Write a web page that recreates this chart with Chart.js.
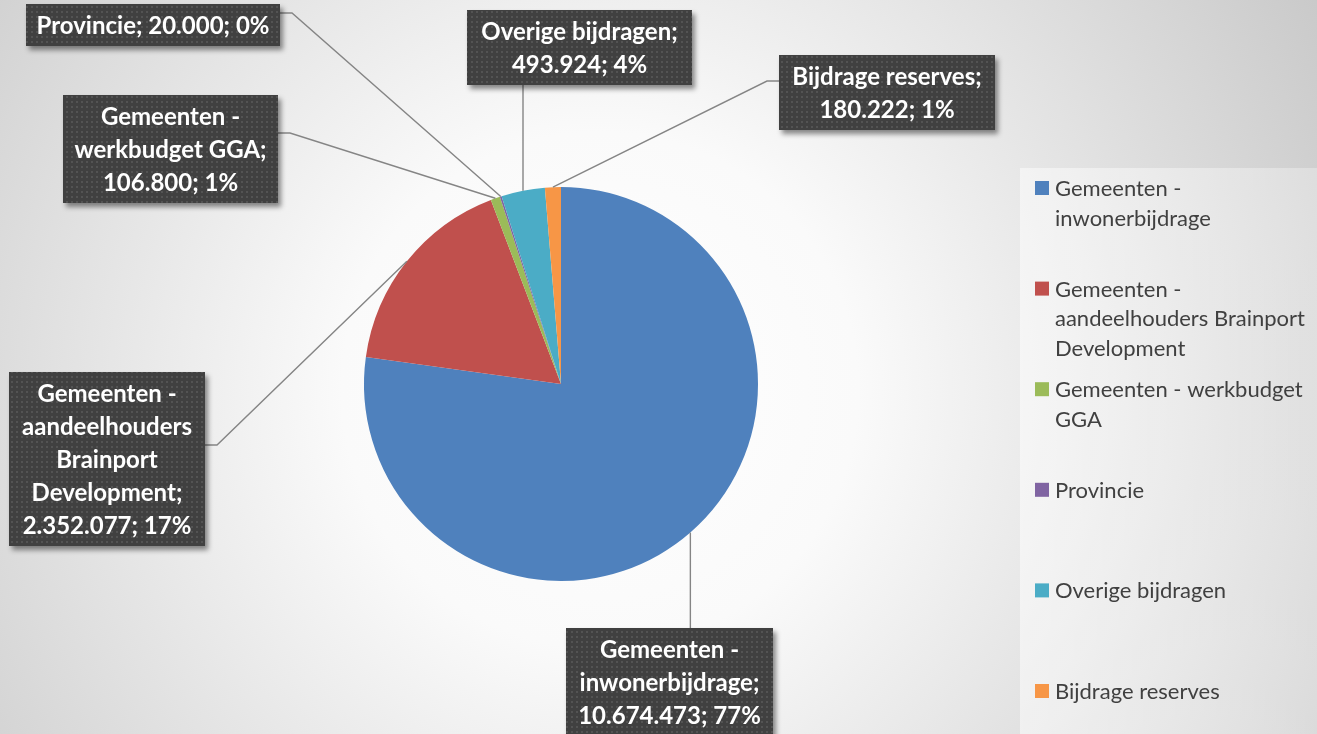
<!DOCTYPE html>
<html>
<head>
<meta charset="utf-8">
<script src="https://cdn.jsdelivr.net/npm/chart.js@4.4.1/dist/chart.umd.min.js"></script>
<style>
  html, body { margin: 0; padding: 0; background: #ffffff; }
  #wrap { position: relative; width: 1317px; height: 734px; }
</style>
</head>
<body>
<div id="wrap"><canvas id="c"></canvas></div>
<script>
// ---- data ----
const categories = [
  'Gemeenten - inwonerbijdrage',
  'Gemeenten - aandeelhouders Brainport Development',
  'Gemeenten - werkbudget GGA',
  'Provincie',
  'Overige bijdragen',
  'Bijdrage reserves'
];
const values = [10674473, 2352077, 106800, 20000, 493924, 180222];
const sliceColors = ['#4f81bd', '#c0504d', '#9bbb59', '#8064a2', '#4bacc6', '#f79646'];

// ---- layout of data-label boxes (x, y, width) and leader attach ----
const labelBoxes = [
  { x: 566, y: 628, w: 207, attach: 'top' },
  { x: 9,   y: 372, w: 196, attach: 'right', ay: 445 },
  { x: 63,  y: 95,  w: 215, attach: 'right', ay: 133 },
  { x: 26,  y: 4,   w: 254, attach: 'right', ay: 13 },
  { x: 467, y: 10,  w: 225, attach: 'bottom' },
  { x: 779, y: 55,  w: 216, attach: 'left', ay: 81 }
];

function fmtNL(n) {
  return String(n).replace(/\B(?=(\d{3})+(?!\d))/g, '.');
}

const LABEL_FONT = 'bold 24px Lato, "Open Sans", sans-serif';
const LEGEND_FONT = '22px Lato, "Open Sans", sans-serif';
const LINE_H = 33;

function wrap(ctx, text, maxW) {
  const words = text.split(' ');
  const lines = [];
  let cur = '';
  for (const w of words) {
    const t = cur ? cur + ' ' + w : w;
    if (cur && ctx.measureText(t).width > maxW) { lines.push(cur); cur = w; }
    else cur = t;
  }
  if (cur) lines.push(cur);
  return lines;
}

function makePattern(ctx) {
  const p = document.createElement('canvas');
  p.width = 5; p.height = 5;
  const g = p.getContext('2d');
  g.fillStyle = '#404040'; g.fillRect(0, 0, 5, 5);
  g.fillStyle = '#535353'; g.fillRect(1, 1, 2, 2);
  return ctx.createPattern(p, 'repeat');
}

const bgPlugin = {
  id: 'bg',
  beforeDraw(chart) {
    const ctx = chart.ctx, W = chart.width, H = chart.height;
    ctx.save();
    const g = ctx.createRadialGradient(600, 390, 0, 600, 390, 860);
    g.addColorStop(0, '#ffffff');
    g.addColorStop(0.3, '#fafafa');
    g.addColorStop(1, '#c6c6c6');
    ctx.fillStyle = g;
    ctx.fillRect(0, 0, W, H);
    // legend panel
    const lg = ctx.createLinearGradient(1020, 0, 1317, 0);
    lg.addColorStop(0, 'rgba(255,255,255,0.5)');
    lg.addColorStop(1, 'rgba(255,255,255,0.3)');
    ctx.fillStyle = lg;
    ctx.fillRect(1020, 168, W - 1020, H - 168);
    ctx.restore();
  }
};

const labelPlugin = {
  id: 'boxLabels',
  afterDatasetsDraw(chart) {
    const ctx = chart.ctx;
    const meta = chart.getDatasetMeta(0);
    const data = chart.data.datasets[0].data;
    const total = data.reduce((a, b) => a + b, 0);
    const pattern = makePattern(ctx);
    ctx.save();
    ctx.font = LABEL_FONT;
    const prepared = meta.data.map((arc, i) => {
      const pct = Math.round(data[i] / total * 100);
      const text = chart.data.labels[i] + '; ' + fmtNL(data[i]) + '; ' + pct + '%';
      const box = labelBoxes[i];
      const lines = wrap(ctx, text, box.w - 6);
      const h = lines.length * LINE_H + 9;
      const p = arc.getProps(['x', 'y', 'startAngle', 'endAngle', 'outerRadius'], true);
      const mid = (p.startAngle + p.endAngle) / 2;
      const ax = p.x + Math.cos(mid) * p.outerRadius;
      const ay = p.y + Math.sin(mid) * p.outerRadius;
      return { box, lines, h, ax, ay };
    });
    // leader lines
    ctx.strokeStyle = '#858585';
    ctx.lineWidth = 1.4;
    prepared.forEach(({ box, h, ax, ay }) => {
      ctx.beginPath();
      ctx.moveTo(ax, ay);
      if (box.attach === 'top') {
        ctx.lineTo(ax, box.y);
      } else if (box.attach === 'bottom') {
        ctx.lineTo(ax, box.y + h);
      } else if (box.attach === 'right') {
        ctx.lineTo(box.x + box.w + 12, box.ay);
        ctx.lineTo(box.x + box.w, box.ay);
      } else {
        ctx.lineTo(box.x - 12, box.ay);
        ctx.lineTo(box.x, box.ay);
      }
      ctx.stroke();
    });
    // boxes
    prepared.forEach(({ box, lines, h }) => {
      ctx.save();
      ctx.shadowColor = 'rgba(0,0,0,0.45)';
      ctx.shadowBlur = 5;
      ctx.shadowOffsetX = 3;
      ctx.shadowOffsetY = 4;
      ctx.fillStyle = '#404040';
      ctx.fillRect(box.x, box.y, box.w, h);
      ctx.restore();
      ctx.fillStyle = pattern;
      ctx.fillRect(box.x, box.y, box.w, h);
      ctx.fillStyle = '#ffffff';
      ctx.textAlign = 'center';
      ctx.textBaseline = 'middle';
      lines.forEach((ln, k) => {
        ctx.fillText(ln, box.x + box.w / 2, box.y + 4.5 + LINE_H * k + LINE_H / 2 + 1);
      });
    });
    ctx.restore();
  }
};

const legendPlugin = {
  id: 'sideLegend',
  afterDraw(chart) {
    const ctx = chart.ctx;
    const colors = chart.data.datasets[0].backgroundColor;
    ctx.save();
    ctx.font = LEGEND_FONT;
    ctx.textBaseline = 'middle';
    ctx.textAlign = 'left';
    chart.data.labels.forEach((lab, i) => {
      const y0 = 188 + i * 100.6;
      ctx.fillStyle = colors[i];
      ctx.fillRect(1035, y0 - 7, 14, 14);
      ctx.fillStyle = '#404040';
      const lines = wrap(ctx, lab, 260);
      lines.forEach((ln, k) => ctx.fillText(ln, 1055, y0 + 1 + k * 29.5));
    });
    ctx.restore();
  }
};

new Chart(document.getElementById('c'), {
  type: 'pie',
  data: {
    labels: categories,
    datasets: [{
      data: values,
      backgroundColor: sliceColors,
      borderWidth: 0
    }]
  },
  options: {
    responsive: true,
    maintainAspectRatio: false,
    animation: false,
    layout: { padding: { left: 364, right: 559, top: 187, bottom: 153 } },
    plugins: {
      legend: { display: false },
      tooltip: { enabled: false },
      title: { display: false }
    }
  },
  plugins: [bgPlugin, labelPlugin, legendPlugin]
});
</script>
</body>
</html>
